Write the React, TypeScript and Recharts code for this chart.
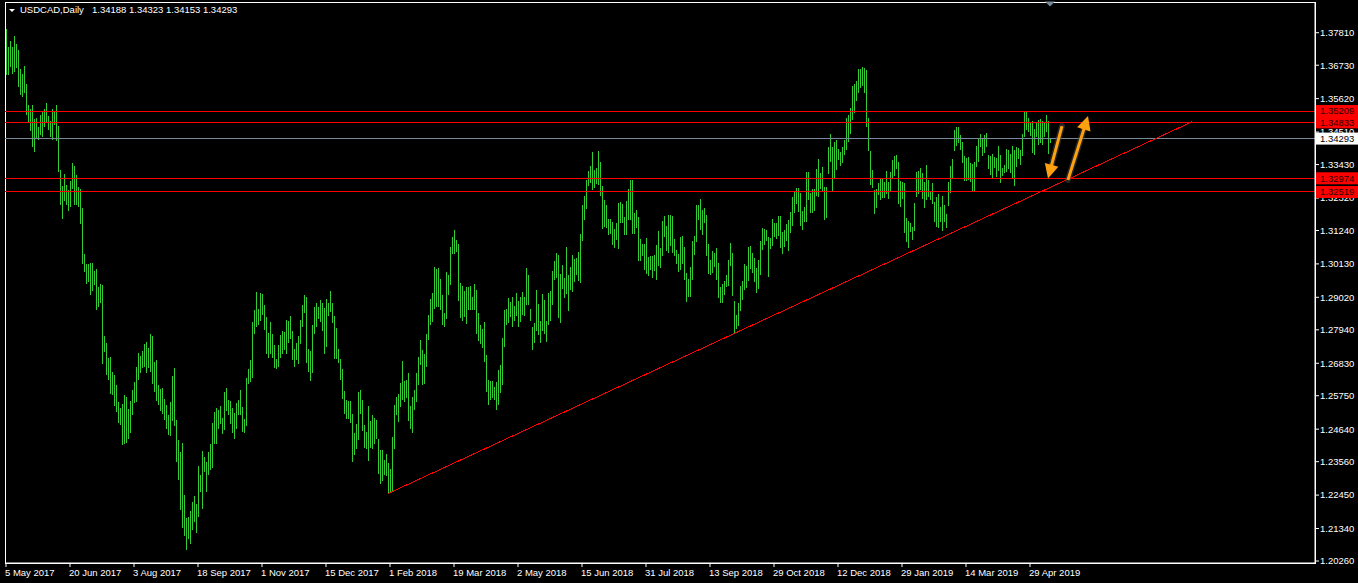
import React from 'react';
import { ComposedChart, Bar, XAxis, YAxis, ReferenceLine, ReferenceDot, ReferenceArea } from 'recharts';

// ---------- values ----------
const SYMBOL = 'USDCAD,Daily';
const LAST_OHLC = ['1.34188', '1.34323', '1.34153', '1.34293'];

const TICK_LABELS = [
  '5 May 2017', '20 Jun 2017', '3 Aug 2017', '18 Sep 2017', '1 Nov 2017', '15 Dec 2017',
  '1 Feb 2018', '19 Mar 2018', '2 May 2018', '15 Jun 2018', '31 Jul 2018', '13 Sep 2018',
  '29 Oct 2018', '12 Dec 2018', '29 Jan 2019', '14 Mar 2019', '29 Apr 2019',
];
const TICK_BARS = [0, 32, 64, 96, 128, 160, 192, 224, 256, 288, 320, 352, 384, 416, 448, 480, 512];

const PRICE_TICKS = [
  1.3781, 1.3673, 1.3562, 1.3451, 1.3343, 1.3232, 1.3124, 1.3013, 1.2902,
  1.2794, 1.2683, 1.2575, 1.2464, 1.2356, 1.2245, 1.2134, 1.2026,
];
const Y_DOMAIN = [1.20194, 1.3883];
const TOTAL_SLOTS = 655; // bars + empty chart shift on the right

const HIGHS = [
  1.3794,1.3734,1.3754,1.3734,1.3770,1.3744,1.3724,1.3661,1.3644,1.3671,1.3611,1.3541,1.3528,1.3541,1.3495,1.3498,1.3468,1.3508,1.3521,1.3528,
  1.3548,1.3505,1.3488,1.3528,1.3521,1.3541,1.3471,1.3325,1.3272,1.3312,1.3275,1.3259,1.3289,1.3348,1.3338,1.3309,1.3269,1.3262,1.3199,1.3046,
  1.3013,1.3013,1.3016,1.3016,1.2990,1.2996,1.2937,1.2947,1.2943,1.2774,1.2751,1.2701,1.2704,1.2654,1.2644,1.2611,1.2555,1.2535,1.2548,1.2578,
  1.2571,1.2531,1.2558,1.2594,1.2621,1.2671,1.2717,1.2707,1.2724,1.2747,1.2754,1.2734,1.2780,1.2774,1.2687,1.2694,1.2611,1.2598,1.2601,1.2565,
  1.2545,1.2511,1.2555,1.2641,1.2667,1.2495,1.2428,1.2389,1.2418,1.2246,1.2169,1.2173,1.2192,1.2222,1.2242,1.2216,1.2342,1.2312,1.2392,1.2372,
  1.2355,1.2389,1.2415,1.2485,1.2521,1.2535,1.2528,1.2541,1.2501,1.2588,1.2601,1.2561,1.2558,1.2535,1.2518,1.2551,1.2561,1.2594,1.2538,1.2498,
  1.2634,1.2664,1.2694,1.2820,1.2860,1.2920,1.2863,1.2917,1.2913,1.2877,1.2837,1.2784,1.2820,1.2780,1.2744,1.2697,1.2744,1.2777,1.2790,1.2787,
  1.2827,1.2824,1.2840,1.2790,1.2731,1.2751,1.2774,1.2827,1.2877,1.2910,1.2903,1.2731,1.2724,1.2810,1.2870,1.2883,1.2870,1.2893,1.2883,1.2867,
  1.2897,1.2883,1.2923,1.2883,1.2840,1.2800,1.2731,1.2697,1.2664,1.2591,1.2561,1.2558,1.2558,1.2515,1.2452,1.2481,1.2588,1.2594,1.2561,1.2478,
  1.2455,1.2541,1.2491,1.2511,1.2501,1.2495,1.2432,1.2395,1.2395,1.2362,1.2382,1.2352,1.2332,1.2438,1.2545,1.2571,1.2581,1.2618,1.2691,1.2624,
  1.2628,1.2651,1.2541,1.2571,1.2594,1.2651,1.2704,1.2761,1.2727,1.2714,1.2780,1.2844,1.2897,1.2917,1.3003,1.2996,1.3000,1.2963,1.2910,1.2850,
  1.2986,1.2976,1.3069,1.3103,1.3126,1.3093,1.3079,1.2950,1.2940,1.2923,1.2937,1.2937,1.2940,1.2903,1.2947,1.2927,1.2850,1.2810,1.2797,1.2820,
  1.2711,1.2628,1.2624,1.2624,1.2604,1.2621,1.2661,1.2678,1.2767,1.2860,1.2863,1.2900,1.2887,1.2903,1.2873,1.2917,1.2890,1.2903,1.2920,1.2903,
  1.3000,1.2976,1.2863,1.2804,1.2817,1.2927,1.2880,1.2824,1.2913,1.2893,1.2824,1.2917,1.2923,1.2990,1.3023,1.3050,1.3043,1.2980,1.3010,1.2967,
  1.3069,1.2976,1.3003,1.3043,1.3030,1.3033,1.3053,1.3113,1.3209,1.3239,1.3292,1.3322,1.3338,1.3385,1.3325,1.3332,1.3388,1.3352,1.3272,1.3226,
  1.3209,1.3162,1.3162,1.3152,1.3129,1.3149,1.3216,1.3219,1.3212,1.3169,1.3222,1.3262,1.3292,1.3292,1.3182,1.3192,1.3169,1.3096,1.3079,1.3079,
  1.3099,1.3036,1.3040,1.3040,1.3043,1.3076,1.3123,1.3066,1.3156,1.3172,1.3139,1.3176,1.3176,1.3172,1.3096,1.3060,1.3046,1.3103,1.3106,1.3069,
  1.2983,1.2963,1.3003,1.3089,1.3106,1.3209,1.3209,1.3229,1.3192,1.3199,1.3176,1.3079,1.3026,1.3056,1.3050,1.3066,1.3016,1.2937,1.2947,1.2957,
  1.2976,1.3026,1.3083,1.3050,1.2890,1.2844,1.2883,1.2940,1.2957,1.3013,1.3006,1.3069,1.3073,1.3050,1.3033,1.3000,1.3026,1.3089,1.3133,1.3129,
  1.3126,1.3103,1.3099,1.3162,1.3149,1.3149,1.3172,1.3172,1.3119,1.3126,1.3146,1.3159,1.3186,1.3236,1.3252,1.3265,1.3265,1.3249,1.3189,1.3202,
  1.3319,1.3319,1.3249,1.3262,1.3262,1.3329,1.3362,1.3315,1.3335,1.3269,1.3269,1.3402,1.3445,1.3402,1.3418,1.3425,1.3395,1.3385,1.3402,1.3425,
  1.3498,1.3508,1.3531,1.3604,1.3611,1.3621,1.3661,1.3661,1.3667,1.3664,1.3657,1.3498,1.3388,1.3325,1.3259,1.3262,1.3282,1.3295,1.3295,1.3285,
  1.3322,1.3285,1.3319,1.3358,1.3372,1.3375,1.3352,1.3289,1.3285,1.3282,1.3166,1.3156,1.3149,1.3136,1.3216,1.3319,1.3322,1.3332,1.3315,1.3285,
  1.3342,1.3292,1.3255,1.3282,1.3219,1.3236,1.3245,1.3202,1.3239,1.3209,1.3179,1.3285,1.3338,1.3362,1.3458,1.3468,1.3468,1.3442,1.3418,1.3372,
  1.3365,1.3368,1.3348,1.3345,1.3352,1.3405,1.3432,1.3445,1.3428,1.3442,1.3448,1.3375,1.3372,1.3378,1.3368,1.3365,1.3405,1.3375,1.3332,1.3342,
  1.3395,1.3392,1.3378,1.3405,1.3392,1.3402,1.3398,1.3392,1.3445,1.3521,1.3518,1.3498,1.3485,1.3488,1.3461,1.3481,1.3491,1.3495,1.3488,1.3485,
  1.3508,1.3488,1.34323,
];

const LOWS = [
  1.3641,1.3641,1.3667,1.3644,1.3651,1.3664,1.3601,1.3574,1.3568,1.3581,1.3508,1.3485,1.3455,1.3402,1.3385,1.3432,1.3425,1.3442,1.3435,1.3468,
  1.3481,1.3458,1.3435,1.3425,1.3475,1.3422,1.3319,1.3209,1.3162,1.3222,1.3209,1.3189,1.3202,1.3262,1.3209,1.3209,1.3202,1.3146,1.3013,1.2986,
  1.2947,1.2953,1.2910,1.2923,1.2943,1.2860,1.2870,1.2883,1.2681,1.2721,1.2644,1.2628,1.2581,1.2578,1.2541,1.2521,1.2485,1.2478,1.2412,1.2415,
  1.2418,1.2432,1.2452,1.2511,1.2551,1.2555,1.2628,1.2651,1.2667,1.2671,1.2651,1.2667,1.2654,1.2614,1.2588,1.2558,1.2545,1.2525,1.2515,1.2495,
  1.2465,1.2445,1.2442,1.2491,1.2475,1.2355,1.2295,1.2196,1.2136,1.2109,1.2063,1.2099,1.2083,1.2129,1.2156,1.2119,1.2173,1.2256,1.2199,1.2322,
  1.2256,1.2312,1.2329,1.2335,1.2415,1.2415,1.2465,1.2481,1.2448,1.2462,1.2525,1.2511,1.2481,1.2452,1.2432,1.2465,1.2511,1.2511,1.2455,1.2452,
  1.2475,1.2614,1.2621,1.2634,1.2780,1.2804,1.2810,1.2824,1.2844,1.2794,1.2714,1.2701,1.2714,1.2701,1.2667,1.2664,1.2671,1.2701,1.2714,1.2727,
  1.2714,1.2751,1.2764,1.2694,1.2671,1.2694,1.2681,1.2747,1.2804,1.2850,1.2684,1.2654,1.2624,1.2651,1.2780,1.2804,1.2830,1.2820,1.2790,1.2714,
  1.2737,1.2840,1.2853,1.2817,1.2697,1.2697,1.2684,1.2628,1.2565,1.2515,1.2498,1.2498,1.2485,1.2355,1.2379,1.2398,1.2428,1.2515,1.2458,1.2402,
  1.2398,1.2359,1.2402,1.2398,1.2415,1.2432,1.2315,1.2282,1.2292,1.2312,1.2309,1.2249,1.2256,1.2256,1.2398,1.2511,1.2488,1.2538,1.2561,1.2555,
  1.2568,1.2491,1.2465,1.2452,1.2528,1.2555,1.2611,1.2678,1.2611,1.2614,1.2671,1.2761,1.2810,1.2820,1.2863,1.2870,1.2870,1.2860,1.2810,1.2804,
  1.2830,1.2910,1.2943,1.3046,1.3046,1.3053,1.2890,1.2834,1.2824,1.2837,1.2814,1.2860,1.2860,1.2860,1.2860,1.2780,1.2757,1.2747,1.2734,1.2687,
  1.2588,1.2545,1.2561,1.2568,1.2561,1.2528,1.2545,1.2584,1.2611,1.2737,1.2810,1.2817,1.2837,1.2804,1.2824,1.2840,1.2804,1.2820,1.2844,1.2840,
  1.2877,1.2877,1.2824,1.2727,1.2751,1.2790,1.2777,1.2751,1.2790,1.2780,1.2754,1.2810,1.2824,1.2877,1.2960,1.2967,1.2834,1.2817,1.2930,1.2900,
  1.2913,1.2857,1.2927,1.2920,1.2953,1.2976,1.2957,1.2950,1.3089,1.3159,1.3196,1.3272,1.3282,1.3259,1.3265,1.3279,1.3275,1.3239,1.3129,1.3136,
  1.3133,1.3109,1.3113,1.3076,1.3066,1.3093,1.3063,1.3149,1.3149,1.3109,1.3109,1.3159,1.3159,1.3113,1.3113,1.3133,1.3023,1.3023,1.3040,1.2993,
  1.2980,1.2973,1.2993,1.2967,1.2990,1.2960,1.3006,1.3000,1.3040,1.3103,1.3056,1.3050,1.3073,1.3050,1.3040,1.3013,1.2986,1.2993,1.3013,1.2960,
  1.2887,1.2903,1.2903,1.2960,1.3043,1.3086,1.3159,1.3126,1.3109,1.3149,1.3040,1.2980,1.2976,1.2983,1.3003,1.2960,1.2900,1.2883,1.2883,1.2910,
  1.2937,1.2940,1.3006,1.2907,1.2780,1.2797,1.2807,1.2857,1.2893,1.2927,1.2933,1.2957,1.2996,1.2983,1.2953,1.2917,1.2930,1.2976,1.3060,1.3076,
  1.3089,1.2970,1.3063,1.3073,1.3103,1.3096,1.3106,1.3066,1.3046,1.3069,1.3089,1.3056,1.3116,1.3139,1.3182,1.3212,1.3186,1.3139,1.3126,1.3152,
  1.3152,1.3226,1.3182,1.3182,1.3189,1.3239,1.3236,1.3262,1.3255,1.3159,1.3166,1.3312,1.3352,1.3255,1.3295,1.3325,1.3358,1.3338,1.3348,1.3375,
  1.3392,1.3418,1.3445,1.3491,1.3515,1.3554,1.3581,1.3598,1.3604,1.3581,1.3468,1.3388,1.3275,1.3265,1.3179,1.3199,1.3242,1.3226,1.3232,1.3232,
  1.3245,1.3229,1.3252,1.3295,1.3305,1.3329,1.3212,1.3202,1.3229,1.3116,1.3086,1.3066,1.3119,1.3093,1.3123,1.3236,1.3245,1.3259,1.3229,1.3199,
  1.3226,1.3236,1.3226,1.3212,1.3152,1.3136,1.3133,1.3152,1.3123,1.3152,1.3133,1.3206,1.3249,1.3295,1.3388,1.3405,1.3415,1.3392,1.3348,1.3289,
  1.3289,1.3292,1.3285,1.3255,1.3252,1.3335,1.3352,1.3402,1.3372,1.3382,1.3402,1.3329,1.3309,1.3295,1.3332,1.3302,1.3322,1.3282,1.3305,1.3315,
  1.3319,1.3329,1.3315,1.3299,1.3272,1.3335,1.3362,1.3342,1.3372,1.3435,1.3458,1.3452,1.3438,1.3382,1.3375,1.3435,1.3408,1.3415,1.3408,1.3435,
  1.3452,1.3378,1.34153,
];

const RESISTANCE_LEVELS = [1.35209, 1.34833];
const SUPPORT_LEVELS = [1.32974, 1.32519];
const BID_PRICE = 1.34293;
const TREND_LINE = [{ bar: 191, price: 1.2250 }, { bar: 593, price: 1.3485 }];
const ARROWS = [
  [{ bar: 528, price: 1.3471 }, { bar: 521, price: 1.3297 }],
  [{ bar: 531, price: 1.3292 }, { bar: 541, price: 1.3504 }],
];

// ---------- styling ----------
const FONT = '"Liberation Sans", Arial, sans-serif';
const BAR_COLOR = '#32CD32';
const LEVEL_RED = '#FF0000';
const BID_GREY = '#778899';
const ARROW_COLOR = '#FFA010';

const LEVELS = RESISTANCE_LEVELS.concat(SUPPORT_LEVELS);
// level tags are drawn as extra axis ticks, last, so they sit on top of the price labels
const AXIS_TICKS = PRICE_TICKS.concat(LEVELS, [BID_PRICE]);

const data = Array.from({ length: TOTAL_SLOTS }, (_, i) =>
  i < HIGHS.length ? { i, range: [LOWS[i], HIGHS[i]] } : { i }
);

const XTick = (props: any) => {
  const { x, y, payload } = props;
  const idx = TICK_BARS.indexOf(payload.value);
  if (idx < 0) return null;
  return (
    <text x={x - 1} y={y} dy="0.71em" textAnchor="start" fill="#FFFFFF" fontSize={9.5} fontFamily={FONT}>
      {TICK_LABELS[idx]}
    </text>
  );
};

const YTick = (props: any) => {
  const { x, y, payload } = props;
  const v = Number(payload.value);
  const isLevel = LEVELS.indexOf(v) >= 0;
  const isBid = v === BID_PRICE;
  if (isLevel || isBid) {
    return (
      <g>
        <rect x={x - 5} y={y - 6} width={43} height={12} fill={isBid ? '#FFFFFF' : LEVEL_RED} />
        <text x={x - 1} y={y} dy="0.355em" textAnchor="start" fill={isBid ? '#000000' : '#2A0000'} fontSize={9.5} fontFamily={FONT}>
          {v.toFixed(5)}
        </text>
      </g>
    );
  }
  return (
    <text x={x - 1} y={y} dy="0.355em" textAnchor="start" fill="#FFFFFF" fontSize={9.5} fontFamily={FONT}>
      {v.toFixed(5)}
    </text>
  );
};

// horizontal level line snapped to a pixel row, like the terminal draws it
const crispLine = (color: string) => (p: any) => {
  const { x1, x2, y1 } = p;
  if (x1 == null || y1 == null || Number.isNaN(y1)) return <g />;
  const y = Math.floor(y1) + 0.5;
  return <line x1={x1} x2={x2} y1={y} y2={y} stroke={color} strokeWidth={1} />;
};

const ArrowShape = (p: any) => {
  const { x1, y1, x2, y2 } = p;
  if ([x1, y1, x2, y2].some((v) => v == null || Number.isNaN(v))) return <g />;
  const dx = x2 - x1;
  const dy = y2 - y1;
  const len = Math.hypot(dx, dy) || 1;
  const ux = dx / len;
  const uy = dy / len;
  const hl = 14;
  const hw = 7;
  const bx = x2 - ux * hl;
  const by = y2 - uy * hl;
  const px = -uy;
  const py = ux;
  return (
    <g>
      <line x1={x1} y1={y1} x2={bx + ux * 2} y2={by + uy * 2} stroke="rgba(70,70,70,0.55)" strokeWidth={6} strokeLinecap="round" />
      <line x1={x1} y1={y1} x2={bx + ux * 2} y2={by + uy * 2} stroke={ARROW_COLOR} strokeWidth={3} />
      <polygon
        points={`${x2},${y2} ${bx + px * hw},${by + py * hw} ${bx - px * hw},${by - py * hw}`}
        fill={ARROW_COLOR}
      />
    </g>
  );
};

const ShiftMarker = (p: any) => {
  const { cx, cy } = p;
  if (cx == null || cy == null) return <g />;
  return <polygon points={`${cx - 5},${cy - 0.5} ${cx + 5},${cy - 0.5} ${cx},${cy + 4.5}`} fill={BID_GREY} />;
};

export default function App() {
  return (
    <div style={{ position: 'absolute', left: 0, top: 0, width: 1358, height: 583, background: '#000000', overflow: 'hidden' }}>
      <ComposedChart width={1358} height={583} data={data} margin={{ top: 2, right: 0, bottom: 0, left: 5 }}>
        <XAxis
          dataKey="i"
          type="category"
          height={20}
          ticks={TICK_BARS}
          interval={0}
          axisLine={{ stroke: '#FFFFFF' }}
          tickLine={{ stroke: '#FFFFFF' }}
          tickSize={4}
          tick={XTick}
        />
        <YAxis
          orientation="right"
          type="number"
          domain={Y_DOMAIN}
          allowDataOverflow
          width={43}
          ticks={AXIS_TICKS}
          interval={0}
          axisLine={{ stroke: '#FFFFFF' }}
          tickLine={{ stroke: '#FFFFFF' }}
          tickSize={4}
          tick={YTick}
        />
        <ReferenceArea
          y1={Y_DOMAIN[0]}
          y2={Y_DOMAIN[1]}
          fill="none"
          stroke="#FFFFFF"
          strokeWidth={1}
          ifOverflow="visible"
          shapeRendering="crispEdges"
        />
        <Bar dataKey="range" fill={BAR_COLOR} barSize={1} isAnimationActive={false} shapeRendering="crispEdges" />
        {LEVELS.map((v) => (
          <ReferenceLine key={'l' + v} y={v} stroke={LEVEL_RED} strokeWidth={1} shape={crispLine(LEVEL_RED)} />
        ))}
        <ReferenceLine y={BID_PRICE} stroke={BID_GREY} strokeWidth={1} shape={crispLine(BID_GREY)} />
        <ReferenceLine
          segment={[{ x: TREND_LINE[0].bar, y: TREND_LINE[0].price }, { x: TREND_LINE[1].bar, y: TREND_LINE[1].price }]}
          stroke={LEVEL_RED}
          strokeWidth={1}
          shapeRendering="crispEdges"
        />
        {ARROWS.map((a, k) => (
          <ReferenceLine
            key={'a' + k}
            segment={[{ x: a[0].bar, y: a[0].price }, { x: a[1].bar, y: a[1].price }]}
            shape={ArrowShape}
          />
        ))}
        <ReferenceDot x={HIGHS.length - 1} y={Y_DOMAIN[1]} ifOverflow="visible" shape={ShiftMarker} />
      </ComposedChart>
      <svg width={300} height={16} style={{ position: 'absolute', left: 0, top: 0 }}>
        <polygon points="9,9 15,9 12,12" fill="#FFFFFF" />
        <text x={20} y={12.7} fill="#FFFFFF" fontSize={9.5} fontFamily={FONT}>{SYMBOL}</text>
        <text x={92} y={12.7} fill="#FFFFFF" fontSize={9.5} fontFamily={FONT}>{LAST_OHLC.join(' ')}</text>
      </svg>
    </div>
  );
}
